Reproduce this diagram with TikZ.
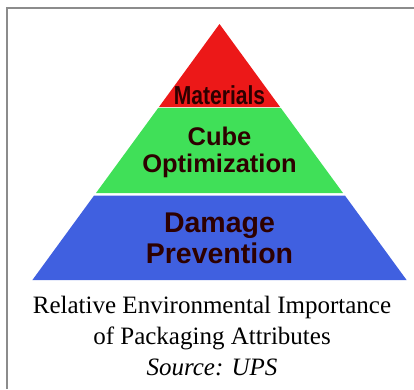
\documentclass[tikz,border=0pt]{standalone}
\usepackage{fontspec}
\setmainfont{Liberation Serif}
\newfontfamily\tiersans{Liberation Sans}
\definecolor{tierred}{RGB}{236, 24, 24}
\definecolor{tiergreen}{RGB}{64, 224, 88}
\definecolor{tierblue}{RGB}{64, 96, 224}
\definecolor{tiertext}{RGB}{45, 0, 0}
\definecolor{framegray}{RGB}{140, 140, 140}
\usetikzlibrary{positioning}

\begin{document}
\begin{tikzpicture}[x=1pt, y=-1pt,
    tierlabel/.style={anchor=base, align=center, text=tiertext, inner sep=0pt}]
  \useasboundingbox (0, 0) rectangle (414, 389);

  % Frame
  \draw[framegray, line width=1.4pt] (7, 389) -- (7, 8) -- (414, 8);

  % Pyramid tiers
  \fill[tierred] (219.5, 24) -- (280.2, 107.2) -- (158.8, 107.2) -- cycle;
  \fill[tiergreen] (158.3, 107.8) -- (280.7, 107.8) -- (343, 193) -- (96, 193) -- cycle;
  \fill[tierblue] (94.1, 195.5) -- (344.9, 195.5) -- (406.6, 280) -- (32.4, 280) -- cycle;

  % Tier labels (base = last line)
  \node[tierlabel, xscale=0.81, font=\tiersans\bfseries\fontsize{26}{28}\selectfont] (materials) at (219.5, 104) {Materials};
  \node[tierlabel, font=\tiersans\bfseries\fontsize{25.5}{27.7}\selectfont] (cube) at (219.5, 172.7) {Cube\\Optimization};
  \node[tierlabel, font=\tiersans\bfseries\fontsize{28.5}{31}\selectfont] (damage) at (219.5, 263) {Damage\\Prevention};

  % Caption
  \node[anchor=base, align=center, inner sep=0pt, font=\fontsize{25}{31}\selectfont] (caption) at (212, 375)
    {Relative Environmental Importance\\of Packaging Attributes\\\textit{Source: UPS}};
\end{tikzpicture}
\end{document}
